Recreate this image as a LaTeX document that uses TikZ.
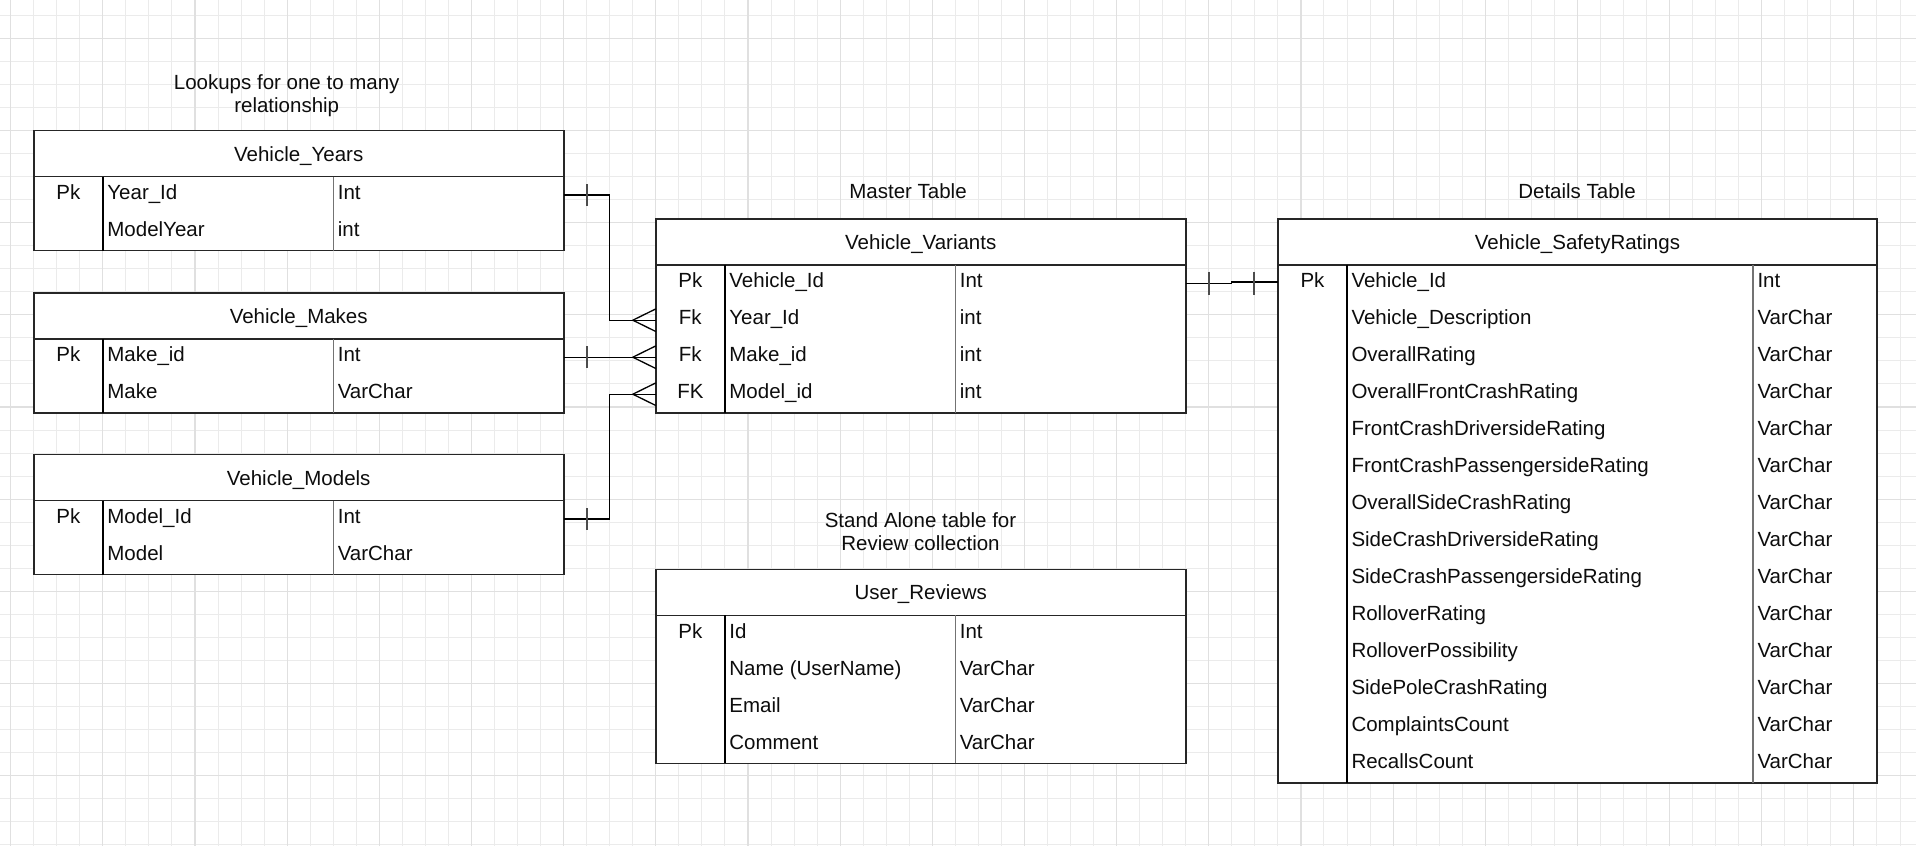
\documentclass[tikz,border=0pt]{standalone}
\usepackage{fontspec}
\setmainfont{Liberation Sans}
\usetikzlibrary{calc}
\tikzset{
  gridminor/.style={draw=black!8, line width=1pt},
  gridmajor/.style={draw=black!12, line width=1.1pt},
  tframe/.style={draw=black!85, fill=white, line width=1.6pt, inner sep=0pt, outer sep=0pt, rectangle},
  colone/.style={draw=black, line width=1.2pt},
  coltwo/.style={draw=black!55, line width=1.6pt},
  ftxt/.style={font=\fontsize{20.5}{24}\selectfont, inner sep=0pt, outer sep=0pt, text=black!95},
  conn/.style={draw=black, line width=1.3pt},
  tick/.style={draw=black!70, line width=1.6pt},
}
\newcommand{\ertable}[9]{%
  \pgfmathsetmacro{\tA}{#3+46}%
  \pgfmathsetmacro{\tH}{37*#7}%
  \pgfmathsetmacro{\tB}{#3+46+37*#7}%
  \pgfmathsetmacro{\tW}{#6-#2}%
  \node[tframe, anchor=north west, minimum width=\tW pt, minimum height=46pt] (#1) at (#2,#3) {};
  \node[tframe, anchor=north west, minimum width=\tW pt, minimum height=\tH pt] (#1-body) at (#2,\tA) {};
  \node[ftxt, anchor=base] (#1-title) at ({(#2+#6)/2},#3+30.5) {#8};
  \draw[colone] (#4,\tA) -- (#4,\tB);
  \draw[coltwo] (#5,\tA) -- (#5,\tB);
  \foreach \rk/\rn/\rt [count=\ri from 0] in {#9} {
    \pgfmathsetmacro{\yb}{\tA+37*\ri+23}
    \pgfmathsetmacro{\yc}{\tA+37*\ri+18.5}
    \node[ftxt, anchor=base] (#1-k\ri) at ({(#2+#4)/2},\yb) {\rk};
    \node[ftxt, anchor=base west] (#1-n\ri) at (#4+4.5,\yb) {\rn};
    \node[ftxt, anchor=base west] (#1-t\ri) at (#5+4.5,\yb) {\rt};
    \coordinate (#1-L\ri) at (#2,\yc);
    \coordinate (#1-R\ri) at (#6,\yc);
  }
}
\begin{document}
\begin{tikzpicture}[x=1pt,y=-1pt]
\useasboundingbox[fill=white] (0,0) rectangle (1916,846);
% grid
\foreach \k in {0,...,82} { \draw[gridminor] ({10.7+23.04*\k},0) -- ({10.7+23.04*\k},846); }
\foreach \k in {0,...,36} { \draw[gridminor] (0,{15.3+23.04*\k}) -- (1916,{15.3+23.04*\k}); }
\foreach \k in {0,4,...,80} { \draw[gridmajor] ({10.7+23.04*\k},0) -- ({10.7+23.04*\k},846); }
\foreach \k in {1,5,...,33} { \draw[gridmajor] (0,{15.3+23.04*\k}) -- (1916,{15.3+23.04*\k}); }

% labels
\node[ftxt, anchor=base] (lab1a) at (286.7,89) {Lookups for one to many};
\node[ftxt, anchor=base] (lab1b) at (286.7,112.7) {relationship};
\node[ftxt, anchor=base] (lab2) at (908,198.5) {Master Table};
\node[ftxt, anchor=base] (lab3) at (1577,198.5) {Details Table};
\node[ftxt, anchor=base] (lab4a) at (920.5,527) {Stand Alone table for};
\node[ftxt, anchor=base] (lab4b) at (920.5,550.5) {Review collection};

% tables
\ertable{yrs}{33.7}{130.5}{102.9}{333.3}{563.7}{2}{Vehicle\_Years}{Pk/Year\_Id/Int, /ModelYear/int}
\ertable{mk}{33.7}{292.7}{102.9}{333.3}{563.7}{2}{Vehicle\_Makes}{Pk/Make\_id/Int, /Make/VarChar}
\ertable{md}{33.7}{454.5}{102.9}{333.3}{563.7}{2}{Vehicle\_Models}{Pk/Model\_Id/Int, /Model/VarChar}
\ertable{var}{655.8}{218.7}{724.9}{955.3}{1185.7}{4}{Vehicle\_Variants}{Pk/Vehicle\_Id/Int, Fk/Year\_Id/int, Fk/Make\_id/int, FK/Model\_id/int}
\ertable{rat}{1277.9}{218.7}{1347}{1753}{1877}{14}{Vehicle\_SafetyRatings}{Pk/Vehicle\_Id/Int, /Vehicle\_Description/VarChar, /OverallRating/VarChar, /OverallFrontCrashRating/VarChar, /FrontCrashDriversideRating/VarChar, /FrontCrashPassengersideRating/VarChar, /OverallSideCrashRating/VarChar, /SideCrashDriversideRating/VarChar, /SideCrashPassengersideRating/VarChar, /RolloverRating/VarChar, /RolloverPossibility/VarChar, /SidePoleCrashRating/VarChar, /ComplaintsCount/VarChar, /RecallsCount/VarChar}
\ertable{rev}{655.8}{569.4}{724.9}{955.3}{1185.7}{4}{User\_Reviews}{Pk/Id/Int, /{Name (UserName)}/VarChar, /Email/VarChar, /Comment/VarChar}

% connectors
\draw[conn] (yrs-R0) -- ++(45.6,0) |- (var-L1);
\draw[conn] (mk-R0) -- (var-L2);
\draw[conn] (md-R0) -- ++(45.6,0) |- (var-L3);
\foreach \s in {yrs,mk,md} { \draw[tick] ($(\s-R0)+(23,-11)$) -- ($(\s-R0)+(23,11)$); }
\foreach \r in {1,2,3} { \draw[conn] ($(var-L\r)+(0,-11.3)$) -- ($(var-L\r)+(-23,0)$) -- ($(var-L\r)+(0,11.3)$); }
\coordinate (rmid) at (1231.7,283.2);
\draw[conn] (var-R0) -- (rmid) -- ++(0,-1.2) -- ($(rat-L0)+(0,-1.2)$);
\draw[tick] ($(var-R0)+(23.3,-11.7)$) -- ($(var-R0)+(23.3,11.7)$);
\draw[tick] ($(rat-L0)+(-23.9,-11.7)$) -- ($(rat-L0)+(-23.9,11.7)$);
\end{tikzpicture}
\end{document}
